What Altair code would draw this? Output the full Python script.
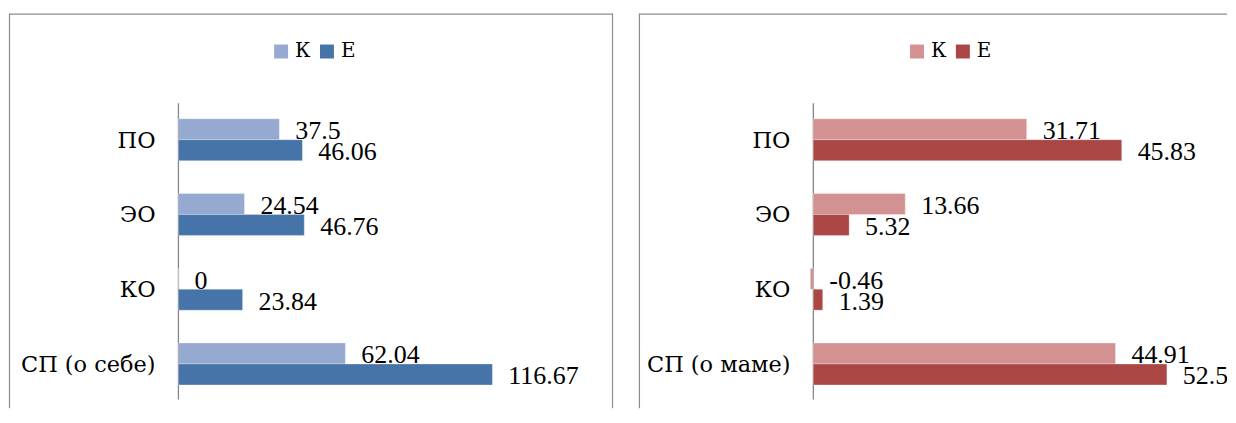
import altair as alt
import pandas as pd

# ---- data ----
categories_left = ["ПО", "ЭО", "КО", "СП (о себе)"]
categories_right = ["ПО", "ЭО", "КО", "СП (о маме)"]
series = ["К", "Е"]
left_k = [37.5, 24.54, 0, 62.04]
left_e = [46.06, 46.76, 23.84, 116.67]
right_k = [31.71, 13.66, -0.46, 44.91]
right_e = [45.83, 5.32, 1.39, 52.55]

colors_left = ["#95A9D1", "#4673A8"]
colors_right = ["#D39291", "#AA4744"]

NUM_FONT = "Liberation Serif"      # digits render in Liberation Serif
CYR_FONT = "DejaVu Serif"          # serif face with Cyrillic glyphs
H = 396
BAND_RANGE = [89, 389]
BORDER = "#8C8C8C"


def make_df(cats, k, e):
    rows = []
    for c, kv, ev in zip(cats, k, e):
        rows.append({"cat": c, "series": series[0], "value": kv, "label": f"{kv:g}"})
        rows.append({"cat": c, "series": series[1], "value": ev, "label": f"{ev:g}"})
    return pd.DataFrame(rows)


def panel(cats, k, e, colors, width, zero_px, px_per_unit, legend_x, right_border):
    df = make_df(cats, k, e)
    xdom = [-zero_px / px_per_unit, (width - zero_px) / px_per_unit]
    xs = alt.Scale(domain=xdom, nice=False, zero=False)
    ys = alt.Scale(domain=cats, range=BAND_RANGE, paddingInner=0.44, paddingOuter=0.22)
    yo = alt.Scale(domain=series, paddingInner=0, paddingOuter=0)

    base = alt.Chart(df)
    bars = base.mark_bar(stroke="white", strokeWidth=0.6, strokeOpacity=0.5).encode(
        x=alt.X("value:Q", scale=xs, axis=None),
        y=alt.Y("cat:N", scale=ys, axis=None, sort=cats),
        yOffset=alt.YOffset("series:N", scale=yo, sort=series),
        color=alt.Color(
            "series:N",
            scale=alt.Scale(domain=series, range=colors),
            legend=alt.Legend(
                orient="none",
                legendX=legend_x,
                legendY=28,
                direction="horizontal",
                title=None,
                symbolType="square",
                symbolSize=196,
                symbolStrokeWidth=0,
                labelFont=CYR_FONT,
                labelFontSize=20,
                labelColor="black",
                labelOffset=4,
                columnPadding=6,
                padding=0,
            ),
        ),
    )
    labels = (
        base.transform_calculate(lx="max(datum.value, 0)")
        .mark_text(align="left", baseline="middle", dx=16, dy=2, font=NUM_FONT,
                   fontSize=26, color="black", clip=True)
        .encode(
            x=alt.X("lx:Q", scale=xs, axis=None),
            y=alt.Y("cat:N", scale=ys, axis=None, sort=cats),
            yOffset=alt.YOffset("series:N", scale=yo, sort=series),
            text="label:N",
        )
    )
    catlab = (
        alt.Chart(pd.DataFrame({"cat": cats}))
        .mark_text(align="right", baseline="middle", dx=-23, dy=1, font=CYR_FONT, fontSize=22.5, color="black")
        .encode(x=alt.datum(0), y=alt.Y("cat:N", scale=ys, axis=None, sort=cats), text="cat:N")
    )
    one = alt.Chart(pd.DataFrame({"v": [0]}))
    axis_rule = one.mark_rule(color="#868686", strokeWidth=1.3).encode(
        x=alt.X("v:Q", scale=xs, axis=None), y=alt.value(BAND_RANGE[0] + 1), y2=alt.value(BAND_RANGE[1] - 2)
    )
    top = one.mark_rule(color=BORDER, strokeWidth=1.2).encode(
        x=alt.value(0), x2=alt.value(width), y=alt.value(0.5)
    )
    left = one.mark_rule(color=BORDER, strokeWidth=1.2).encode(
        x=alt.value(0.5), y=alt.value(0), y2=alt.value(H)
    )
    layers = [top, left, axis_rule, bars, labels, catlab]
    if right_border:
        layers.append(
            one.mark_rule(color=BORDER, strokeWidth=1.2).encode(
                x=alt.value(width - 0.5), y=alt.value(0), y2=alt.value(H)
            )
        )
    return alt.layer(*layers).properties(width=width, height=H)


left_panel = panel(categories_left, left_k, left_e, colors_left, 606, 170, 2.70, 263, True)
right_panel = panel(categories_right, right_k, right_e, colors_right, 590, 175, 6.75, 269, False)

chart = (
    alt.hconcat(left_panel, right_panel, spacing=24)
    .resolve_scale(x="independent", y="independent", color="independent", yOffset="independent")
    .properties(padding={"left": 0, "top": 4, "right": 0, "bottom": 0}, background="white")
    .configure_view(stroke=None)
)

chart.save("out.html", embed_options={"renderer": "svg", "actions": False})
